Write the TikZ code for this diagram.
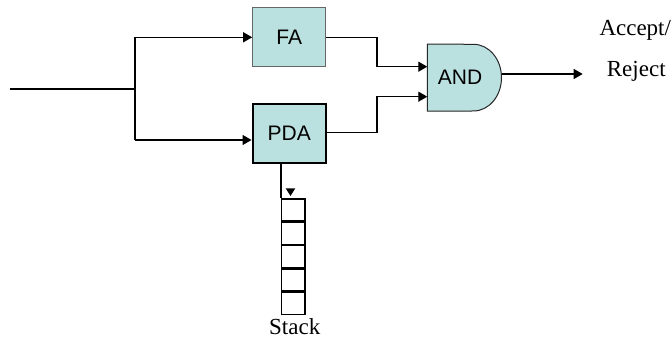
\documentclass[tikz,border=0pt]{standalone}
\usepackage{fontspec}
\setmainfont{Liberation Serif}
\newfontfamily\arialf{Liberation Sans}
\usetikzlibrary{arrows.meta,positioning}
\definecolor{boxfill}{RGB}{187,224,224}
\tikzset{
  wire/.style={line width=1.3pt, black},
  arr/.style={wire, -{Triangle[length=9pt,width=10pt]}},
  blockbox/.style={fill=boxfill, minimum width=73pt, minimum height=59pt, inner sep=0pt,
    font=\arialf\fontsize{21}{25}\selectfont},
  cell/.style={draw, line width=1.3pt, minimum width=23.3pt, minimum height=22pt, inner sep=0pt},
  lbl/.style={font=\fontsize{23}{27}\selectfont, inner sep=0pt},
}
\begin{document}
\begin{tikzpicture}[x=1pt,y=1pt]
\useasboundingbox (0,0) rectangle (672,339);
% blocks
\node[blockbox, draw=black!60, line width=1pt] (FA) at (289.2,301.8) {FA};
\node[blockbox, draw=black, line width=2.3pt] (PDA) at (289.2,205.35) {PDA};
% AND gate
\node[minimum width=74pt, minimum height=66.7pt, inner sep=0pt] (AND) at (464.5,261.35) {};
\draw[fill=boxfill, line width=1pt, draw=black!85] (AND.south west) -- (AND.north west) -- (473.5,294.7)
  arc[start angle=90, end angle=-90, x radius=28, y radius=33.35] -- cycle;
\node[font=\arialf\fontsize{21}{25}\selectfont, inner sep=0pt] (ANDt) at (460,261.5) {AND};
% input
\coordinate (in) at (10,250.3);
\coordinate (split) at (135,250.3);
\coordinate (splitT) at (135,301.7);
\coordinate (splitB) at (135,199);
\draw[line width=2pt] (in) -- (split);
\draw[wire] (splitT) -- (splitB);
\draw[arr] (splitT) -- (splitT -| FA.west);
\draw[arr] (splitB) -- (splitB -| PDA.west);
% to gate
\coordinate (jog) at (377,0);
\coordinate (g1) at (0,272.3);
\coordinate (g2) at (0,242.3);
\coordinate (pout) at (0,206.3);
\draw[arr] (FA.east |- splitT) -- (jog |- splitT) -- (jog |- g1) -- (g1 -| AND.west);
\draw[arr] (PDA.east |- pout) -- (jog |- pout) -- (jog |- g2) -- (g2 -| AND.west);
% output
\coordinate (out) at (582.7,265);
\draw[arr] (AND.east |- out) -- (out);
\node[lbl, anchor=base west] (acc) at (599.3,303.3) {Accept/};
\node[lbl, anchor=base west] (rej) at (606.7,262.3) {Reject};
% stack
\node[cell] (c1) at (293.35,129) {};
\node[cell, anchor=north] (c2) at (c1.south) {};
\node[cell, anchor=north] (c3) at (c2.south) {};
\node[cell, anchor=north] (c4) at (c3.south) {};
\node[cell, anchor=north] (c5) at (c4.south) {};
\draw[wire] (c1.north west |- PDA.south) -- (c1.north west);
\fill (285.7,150.7) -- (295.3,150.7) -- (290.5,143) -- cycle;
\node[lbl, anchor=base] (stk) at (294.7,4) {Stack};
\end{tikzpicture}
\end{document}
